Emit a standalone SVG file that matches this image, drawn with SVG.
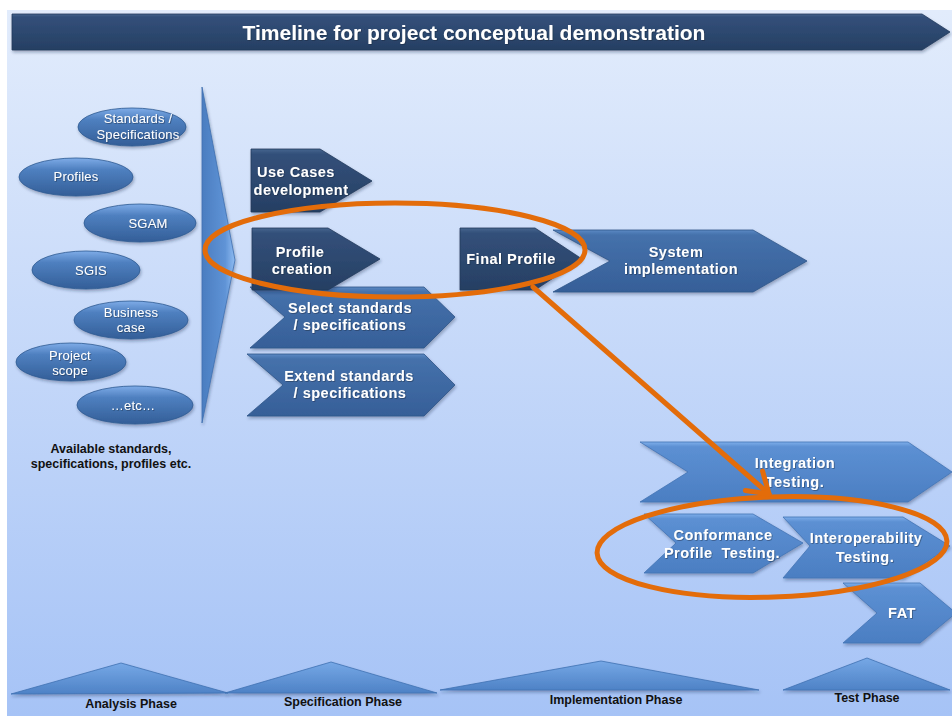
<svg xmlns="http://www.w3.org/2000/svg" width="952" height="716" viewBox="0 0 952 716">
<defs>
<linearGradient id="gBg" x1="0" y1="0" x2="0" y2="1">
<stop offset="0" stop-color="#e2ecfc"/><stop offset="1" stop-color="#a6c3f6"/>
</linearGradient>
<linearGradient id="gDark" x1="0" y1="0" x2="0" y2="1">
<stop offset="0" stop-color="#46658f"/><stop offset="0.08" stop-color="#33507a"/><stop offset="1" stop-color="#263f63"/>
</linearGradient>
<linearGradient id="gMid" x1="0" y1="0" x2="0" y2="1">
<stop offset="0" stop-color="#5b89c4"/><stop offset="0.08" stop-color="#4571ab"/><stop offset="1" stop-color="#365f98"/>
</linearGradient>
<linearGradient id="gLight" x1="0" y1="0" x2="0" y2="1">
<stop offset="0" stop-color="#7eaeea"/><stop offset="0.08" stop-color="#5c90d3"/><stop offset="1" stop-color="#4b7ec2"/>
</linearGradient>
<linearGradient id="gEll" x1="0" y1="0" x2="0" y2="1">
<stop offset="0" stop-color="#7eace8"/><stop offset="0.3" stop-color="#4f80c0"/><stop offset="1" stop-color="#335e98"/>
</linearGradient>
<linearGradient id="gTri" x1="0" y1="0" x2="0" y2="1">
<stop offset="0" stop-color="#76a8e6"/><stop offset="1" stop-color="#4e82c6"/>
</linearGradient>
<linearGradient id="gVert" x1="0" y1="0" x2="1" y2="0">
<stop offset="0" stop-color="#4a7dc0"/><stop offset="0.7" stop-color="#5f93d6"/><stop offset="1" stop-color="#8fbcf2"/>
</linearGradient>
<filter id="sh" x="-10%" y="-10%" width="130%" height="140%">
<feDropShadow dx="1" dy="2" stdDeviation="1.5" flood-color="#1a2c48" flood-opacity="0.35"/>
</filter>
<filter id="tsh" x="-5%" y="-20%" width="110%" height="150%">
<feDropShadow dx="0.8" dy="0.8" stdDeviation="0.4" flood-color="#0d1a2e" flood-opacity="0.5"/>
</filter>
<marker id="openArrow" markerUnits="userSpaceOnUse" viewBox="-4 -17 30 34" markerWidth="30" markerHeight="34" refX="20" refY="0" orient="auto" overflow="visible">
<path d="M0,-13 L20,0 L0,13" fill="none" stroke="#e36c0a" stroke-width="5" stroke-linecap="round" stroke-linejoin="round"/>
</marker>
<style>
.dark{fill:url(#gDark);stroke:#223a5c;stroke-width:0.8;filter:url(#sh)}
.mid{fill:url(#gMid);stroke:#2f5688;stroke-width:0.8;filter:url(#sh)}
.light{fill:url(#gLight);stroke:#4273b4;stroke-width:0.8;filter:url(#sh)}
.ell{fill:url(#gEll);stroke:#2f5a92;stroke-width:0.8;filter:url(#sh)}
.tri{fill:url(#gTri);stroke:#3f71b3;stroke-width:0.8;filter:url(#sh)}
.nt{font-family:"Liberation Sans",Arial,sans-serif;font-weight:bold;font-size:14.5px;fill:#ffffff;text-anchor:middle;letter-spacing:0.5px;filter:url(#tsh)}
.et{font-family:"Liberation Sans",Arial,sans-serif;font-size:13px;fill:#ffffff;text-anchor:middle;letter-spacing:0.2px;filter:url(#tsh)}
.bt{font-family:"Liberation Sans",Arial,sans-serif;font-weight:bold;font-size:12.5px;fill:#111111;text-anchor:middle}
.pt{font-family:"Liberation Sans",Arial,sans-serif;font-weight:bold;font-size:12.5px;fill:#111111;text-anchor:middle}
.hl{fill:none;stroke:#e36c0a;stroke-width:5}
</style>
</defs>

<rect x="0" y="0" width="952" height="716" fill="#ffffff"/>
<rect x="7" y="10" width="945" height="706" fill="url(#gBg)"/>

<g id="title">
<polygon class="dark" points="12,14 922,14 950,32 922,50 12,50"/>
<text x="474" y="40" font-family="'Liberation Sans',Arial,sans-serif" font-weight="bold" font-size="21" fill="#ffffff" text-anchor="middle" filter="url(#tsh)">Timeline for project conceptual demonstration</text>
</g>

<g id="sources">
<g id="e-standards"><ellipse class="ell" cx="132" cy="127" rx="54" ry="19"/><text class="et" x="138" y="123">Standards /</text><text class="et" x="138" y="139">Specifications</text></g>
<g id="e-profiles"><ellipse class="ell" cx="76" cy="177" rx="57" ry="19"/><text class="et" x="76" y="181">Profiles</text></g>
<g id="e-sgam"><ellipse class="ell" cx="140" cy="223" rx="56" ry="19"/><text class="et" x="148" y="228">SGAM</text></g>
<g id="e-sgis"><ellipse class="ell" cx="86" cy="270" rx="54" ry="19"/><text class="et" x="91" y="275">SGIS</text></g>
<g id="e-business"><ellipse class="ell" cx="131" cy="320" rx="57" ry="19"/><text class="et" x="131" y="317">Business</text><text class="et" x="131" y="332">case</text></g>
<g id="e-scope"><ellipse class="ell" cx="71" cy="362" rx="55" ry="19"/><text class="et" x="70" y="360">Project</text><text class="et" x="70" y="375">scope</text></g>
<g id="e-etc"><ellipse class="ell" cx="135" cy="405" rx="58" ry="19"/><text class="et" x="133" y="410">…etc…</text></g>
<text class="bt" x="111" y="453">Available standards,</text>
<text class="bt" x="111" y="468">specifications, profiles etc.</text>
</g>

<g id="funnel">
<polygon points="202,87 235,260 202,423" fill="url(#gVert)" stroke="#3f70b0" stroke-width="0.8" filter="url(#sh)"/>
</g>

<g id="n-select"><polygon class="mid" points="250,287 424,287 455,317 424,348 250,348 285,317"/><text class="nt" x="350" y="313">Select standards</text><text class="nt" x="350" y="330">/ specifications</text></g>
<g id="n-extend"><polygon class="mid" points="247,354 424,354 455,385 424,416 247,416 283,385"/><text class="nt" x="349" y="381">Extend standards</text><text class="nt" x="350" y="398">/ specifications</text></g>
<g id="n-usecases"><polygon class="dark" points="251,149 320,149 372,181 320,212 251,212"/><text class="nt" x="296" y="177">Use Cases</text><text class="nt" x="301" y="195" letter-spacing="1">development</text></g>
<g id="n-profile"><polygon class="dark" points="252,228 328,228 380,259 328,290 252,290"/><text class="nt" x="300" y="257">Profile</text><text class="nt" x="302" y="274">creation</text></g>
<g id="n-system"><polygon class="mid" points="553,230 753,230 807,261 753,292 553,292 610,261"/><text class="nt" x="676" y="257">System</text><text class="nt" x="681" y="274">implementation</text></g>
<g id="n-final"><polygon class="dark" points="460,228 535,228 582,259 535,290 460,290"/><text class="nt" x="511" y="264">Final Profile</text></g>
<g id="n-integration"><polygon class="light" points="640,442 908,442 952,472 908,502 640,502 688,472"/><text class="nt" x="795" y="468">Integration</text><text class="nt" x="795" y="487">Testing.</text></g>
<g id="n-conformance"><polygon class="light" points="644,514 753,514 803,543 753,573 644,573 676,543"/><text class="nt" x="723" y="540">Conformance</text><text class="nt" x="722" y="558" xml:space="preserve">Profile  Testing.</text></g>
<g id="n-interop"><polygon class="light" points="783,517 903,517 950,546 903,578 783,578 810,546"/><text class="nt" x="866" y="543">Interoperability</text><text class="nt" x="865" y="562">Testing.</text></g>
<g id="n-fat"><polygon class="light" points="843,583 920,583 956,613 920,643 843,643 877,613"/><text class="nt" x="902" y="618">FAT</text></g>

<g id="phases">
<g id="p-analysis"><polygon class="tri" points="11,694 121,663 228,693"/><text class="pt" x="131" y="708">Analysis Phase</text></g>
<g id="p-spec"><polygon class="tri" points="225,693 331,662 437,693"/><text class="pt" x="343" y="706">Specification Phase</text></g>
<g id="p-impl"><polygon class="tri" points="440,690 601,661 759,690"/><text class="pt" x="616" y="704">Implementation Phase</text></g>
<g id="p-test"><polygon class="tri" points="783,690 867,658 950,690"/><text class="pt" x="867" y="702">Test Phase</text></g>
</g>

<g id="highlights">
<ellipse class="hl" cx="395" cy="250" rx="190" ry="47"/>
<ellipse class="hl" cx="772" cy="547" rx="175" ry="50" transform="rotate(-2 772 547)"/>
</g>

<g id="connectors">
<line x1="533" y1="287" x2="769" y2="494" stroke="#e36c0a" stroke-width="5" stroke-linecap="round" marker-end="url(#openArrow)"/>
</g>
</svg>
